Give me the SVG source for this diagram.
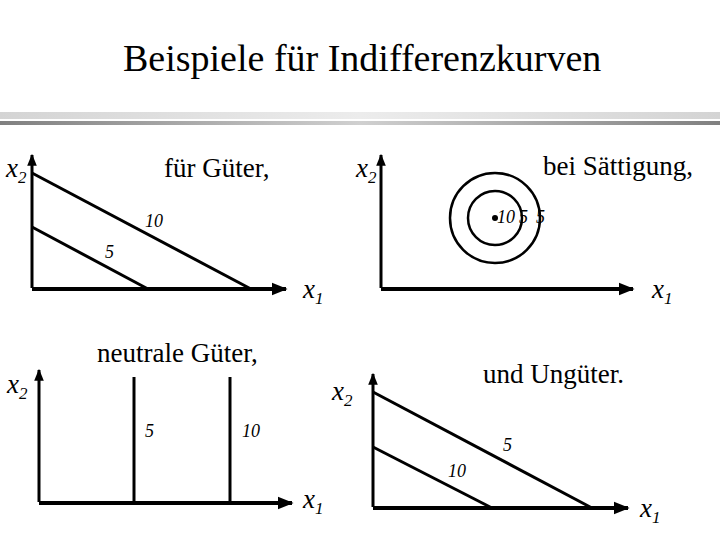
<svg xmlns="http://www.w3.org/2000/svg" width="720" height="540" viewBox="0 0 720 540">
<defs>
<linearGradient id="gLight" x1="0" y1="0" x2="1" y2="0">
<stop offset="0" stop-color="#d4d4d4"/><stop offset="0.5" stop-color="#ececec"/><stop offset="1" stop-color="#d4d4d4"/>
</linearGradient>
<linearGradient id="gDark" x1="0" y1="0" x2="1" y2="0">
<stop offset="0" stop-color="#808080"/><stop offset="0.5" stop-color="#d0d0d0"/><stop offset="1" stop-color="#808080"/>
</linearGradient>
<marker id="arr" viewBox="0 0 10 10" refX="9" refY="5" markerWidth="4" markerHeight="4" markerUnits="strokeWidth" orient="auto">
<path d="M0,1 L10,5 L0,9 z" fill="#000"/>
</marker>
</defs>
<style>
.t{font-family:'Liberation Serif',serif !important}
.title{font-size:38px}
.cap{font-size:27px}
.var{font-size:27px;font-style:italic}
.sub{font-size:17px;font-style:italic}
.num{font-size:18px;font-style:italic}
.ax{stroke:#000;stroke-width:3;fill:none}
.axx{stroke:#000;stroke-width:4;fill:none}
.c{stroke:#000;stroke-width:3;fill:none}
.ci{stroke:#000;stroke-width:2.5;fill:none}
</style>
<rect x="0" y="112" width="720" height="7" fill="url(#gLight)"/>
<rect x="0" y="121" width="720" height="4" fill="url(#gDark)"/>
<text class="t title" style="font-family:'Liberation Serif',serif" x="123" y="71">Beispiele für Indifferenzkurven</text>

<g id="panel-gueter">
<line class="ax" x1="32" y1="288" x2="32" y2="155" marker-end="url(#arr)"/>
<line class="axx" x1="32" y1="289" x2="286" y2="289" marker-end="url(#arr)"/>
<line class="c" x1="32" y1="173" x2="251" y2="289"/>
<line class="c" x1="32" y1="227" x2="148" y2="289"/>
<text class="t num" style="font-family:'Liberation Serif',serif" x="145" y="227">10</text>
<text class="t num" style="font-family:'Liberation Serif',serif" x="105" y="258">5</text>
<text class="t var" style="font-family:'Liberation Serif',serif" x="6" y="177">x<tspan class="sub" dy="6">2</tspan></text>
<text class="t var" style="font-family:'Liberation Serif',serif" x="303" y="298">x<tspan class="sub" dy="6">1</tspan></text>
<text class="t cap" style="font-family:'Liberation Serif',serif" x="164" y="177">für Güter,</text>
</g>

<g id="panel-saettigung">
<line class="ax" x1="381" y1="288" x2="381" y2="155" marker-end="url(#arr)"/>
<line class="axx" x1="381" y1="289" x2="633" y2="289" marker-end="url(#arr)"/>
<circle class="ci" cx="495" cy="218" r="45"/>
<circle class="ci" cx="495" cy="218" r="27"/>
<circle cx="495" cy="218" r="3" fill="#000"/>
<text class="t num" style="font-family:'Liberation Serif',serif" x="497" y="223">10</text>
<text class="t num" style="font-family:'Liberation Serif',serif" x="519" y="223">5</text>
<text class="t num" style="font-family:'Liberation Serif',serif" x="536" y="223">5</text>
<text class="t var" style="font-family:'Liberation Serif',serif" x="356" y="177">x<tspan class="sub" dy="6">2</tspan></text>
<text class="t var" style="font-family:'Liberation Serif',serif" x="652" y="298">x<tspan class="sub" dy="6">1</tspan></text>
<text class="t cap" style="font-family:'Liberation Serif',serif" x="543" y="175">bei Sättigung,</text>
</g>

<g id="panel-neutral">
<line class="ax" x1="39" y1="502" x2="39" y2="370" marker-end="url(#arr)"/>
<line class="axx" x1="39" y1="503" x2="292" y2="503" marker-end="url(#arr)"/>
<line class="c" x1="134" y1="377" x2="134" y2="503"/>
<line class="c" x1="230" y1="377" x2="230" y2="503"/>
<text class="t num" style="font-family:'Liberation Serif',serif" x="145" y="437">5</text>
<text class="t num" style="font-family:'Liberation Serif',serif" x="242" y="437">10</text>
<text class="t var" style="font-family:'Liberation Serif',serif" x="7" y="393">x<tspan class="sub" dy="6">2</tspan></text>
<text class="t var" style="font-family:'Liberation Serif',serif" x="303" y="508">x<tspan class="sub" dy="6">1</tspan></text>
<text class="t cap" style="font-family:'Liberation Serif',serif" x="97" y="362">neutrale Güter,</text>
</g>

<g id="panel-unguter">
<line class="ax" x1="373" y1="507" x2="373" y2="374" marker-end="url(#arr)"/>
<line class="axx" x1="373" y1="508" x2="628" y2="508" marker-end="url(#arr)"/>
<line class="c" x1="373" y1="392" x2="592" y2="508"/>
<line class="c" x1="373" y1="447" x2="492" y2="508"/>
<text class="t num" style="font-family:'Liberation Serif',serif" x="503" y="451">5</text>
<text class="t num" style="font-family:'Liberation Serif',serif" x="448" y="477">10</text>
<text class="t var" style="font-family:'Liberation Serif',serif" x="332" y="400">x<tspan class="sub" dy="6">2</tspan></text>
<text class="t var" style="font-family:'Liberation Serif',serif" x="640" y="517">x<tspan class="sub" dy="6">1</tspan></text>
<text class="t cap" style="font-family:'Liberation Serif',serif" x="483" y="383">und Ungüter.</text>
</g>
</svg>
